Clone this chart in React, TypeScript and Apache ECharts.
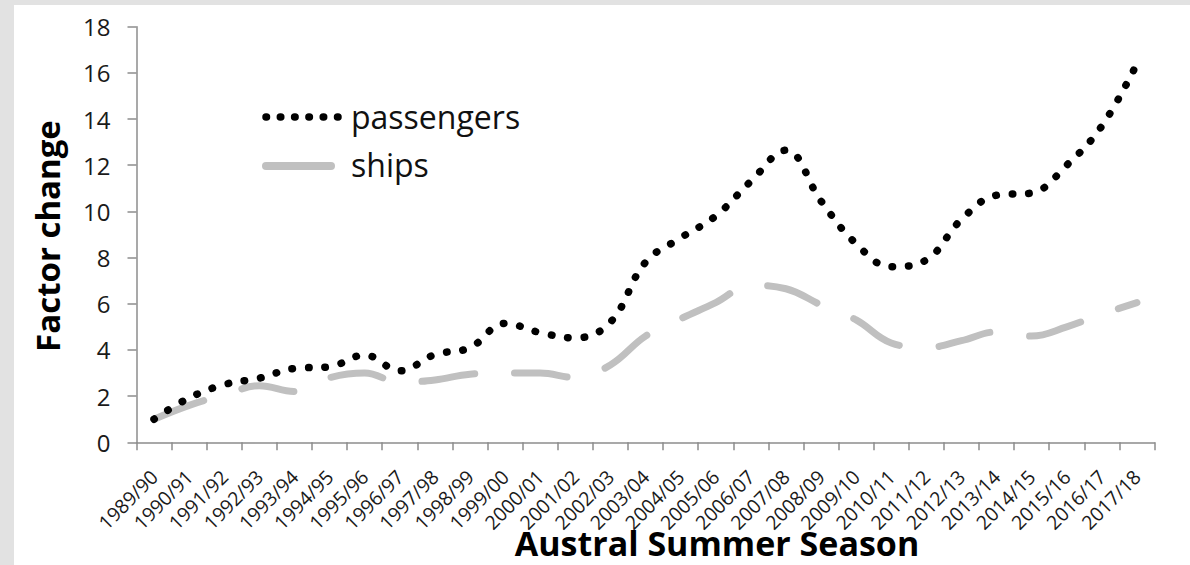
import React, { useEffect, useRef } from "react";
import * as echarts from "echarts";

const seasons = [
  "1989/90", "1990/91", "1991/92", "1992/93", "1993/94", "1994/95", "1995/96",
  "1996/97", "1997/98", "1998/99", "1999/00", "2000/01", "2001/02", "2002/03",
  "2003/04", "2004/05", "2005/06", "2006/07", "2007/08", "2008/09", "2009/10",
  "2010/11", "2011/12", "2012/13", "2013/14", "2014/15", "2015/16", "2016/17",
  "2017/18",
];

const passengers = [
  1.0, 1.92, 2.5, 2.78, 3.2, 3.27, 3.78, 3.1, 3.8, 4.1, 5.15, 4.75, 4.52, 5.2,
  7.8, 8.85, 9.8, 11.3, 12.65, 10.45, 8.6, 7.6, 7.9, 9.65, 10.7, 10.8, 12.0,
  13.7, 16.4,
];

const ships = [
  1.0, 1.6, 2.05, 2.45, 2.2, 2.8, 3.0, 2.6, 2.7, 2.95, 3.0, 3.0, 2.8, 3.35,
  4.6, 5.35, 6.05, 6.8, 6.65, 5.95, 5.3, 4.3, 4.1, 4.4, 4.78, 4.6, 5.0, 5.55,
  6.05,
];

const seriesNames = ["passengers", "ships"];

const yMin = 0;
const yMax = 18;
const yStep = 2;

const FONT = '"Open Sans", "DejaVu Sans", sans-serif';
const PASS_COLOR = "#000";
const SHIP_COLOR = "#c0c0c0";

export default function App() {
  const ref = useRef<HTMLDivElement>(null);

  useEffect(() => {
    if (!ref.current) return;
    const chart = echarts.init(ref.current, undefined, { renderer: "svg" });
    chart.setOption({
      animation: false,
      backgroundColor: "transparent",
      grid: { left: 136.5, right: 35.5, top: 26.7, bottom: 122.7, containLabel: false },
      xAxis: {
        type: "category",
        data: seasons,
        boundaryGap: true,
        axisLine: { lineStyle: { color: "#8c8c8c", width: 1.5 } },
        axisTick: { show: true, length: 8, lineStyle: { color: "#8c8c8c", width: 1.5 }, interval: 0 },
        axisLabel: {
          interval: 0,
          rotate: 45,
          margin: 31,
          fontSize: 19.5,
          color: "#1a1a1a",
          fontFamily: FONT,
        },
        splitLine: { show: false },
      },
      yAxis: {
        type: "value",
        min: yMin,
        max: yMax,
        interval: yStep,
        axisLine: { show: true, lineStyle: { color: "#8c8c8c", width: 1.5 } },
        axisTick: { show: true, length: 9, lineStyle: { color: "#8c8c8c", width: 1.5 } },
        axisLabel: { margin: 26, fontSize: 24, color: "#1a1a1a", fontFamily: FONT },
        splitLine: { show: false },
      },
      graphic: [
        {
          type: "text",
          x: 717,
          y: 543,
          style: {
            text: "Austral Summer Season",
            font: `bold 34px ${FONT}`,
            fill: "#000",
            textAlign: "center",
            textVerticalAlign: "middle",
            align: "center",
            verticalAlign: "middle",
          },
        },
        {
          type: "text",
          x: 47,
          y: 236,
          rotation: Math.PI / 2,
          style: {
            text: "Factor change",
            font: `bold 33px ${FONT}`,
            fill: "#000",
            textAlign: "center",
            textVerticalAlign: "middle",
            align: "center",
            verticalAlign: "middle",
          },
        },
        {
          type: "line",
          shape: { x1: 266, y1: 117, x2: 338, y2: 117 },
          style: { stroke: PASS_COLOR, lineWidth: 7.5, lineDash: [0.5, 13.8], lineCap: "round" },
        },
        {
          type: "line",
          shape: { x1: 266, y1: 166, x2: 331, y2: 166 },
          style: { stroke: SHIP_COLOR, lineWidth: 8, lineCap: "round" },
        },
        {
          type: "text",
          x: 351,
          y: 116,
          style: {
            text: seriesNames[0],
            font: `32px ${FONT}`,
            fill: "#111",
            textAlign: "left",
            textVerticalAlign: "middle",
            align: "left",
            verticalAlign: "middle",
          },
        },
        {
          type: "text",
          x: 351,
          y: 164,
          style: {
            text: seriesNames[1],
            font: `32px ${FONT}`,
            fill: "#111",
            textAlign: "left",
            textVerticalAlign: "middle",
            align: "left",
            verticalAlign: "middle",
          },
        },
      ],
      series: [
        {
          name: seriesNames[1],
          type: "line",
          data: ships,
          smooth: 0.4,
          symbol: "none",
          z: 2,
          itemStyle: { color: SHIP_COLOR },
          lineStyle: { color: SHIP_COLOR, width: 7, type: [53, 40], cap: "round", join: "round" },
        },
        {
          name: seriesNames[0],
          type: "line",
          data: passengers,
          smooth: 0.4,
          symbol: "none",
          z: 3,
          itemStyle: { color: PASS_COLOR },
          lineStyle: { color: PASS_COLOR, width: 7.5, type: [0.5, 16], cap: "round", join: "round" },
        },
      ],
    });
    return () => chart.dispose();
  }, []);

  return (
    <div style={{ position: "fixed", left: 0, top: 0, width: 1190, height: 565, background: "#e2e2e2", overflow: "hidden" }}>
      <div style={{ position: "absolute", left: 14, top: 5, width: 1176, height: 560, background: "#fff" }} />
      <div ref={ref} style={{ position: "absolute", left: 0, top: 0, width: 1190, height: 565 }} />
    </div>
  );
}
